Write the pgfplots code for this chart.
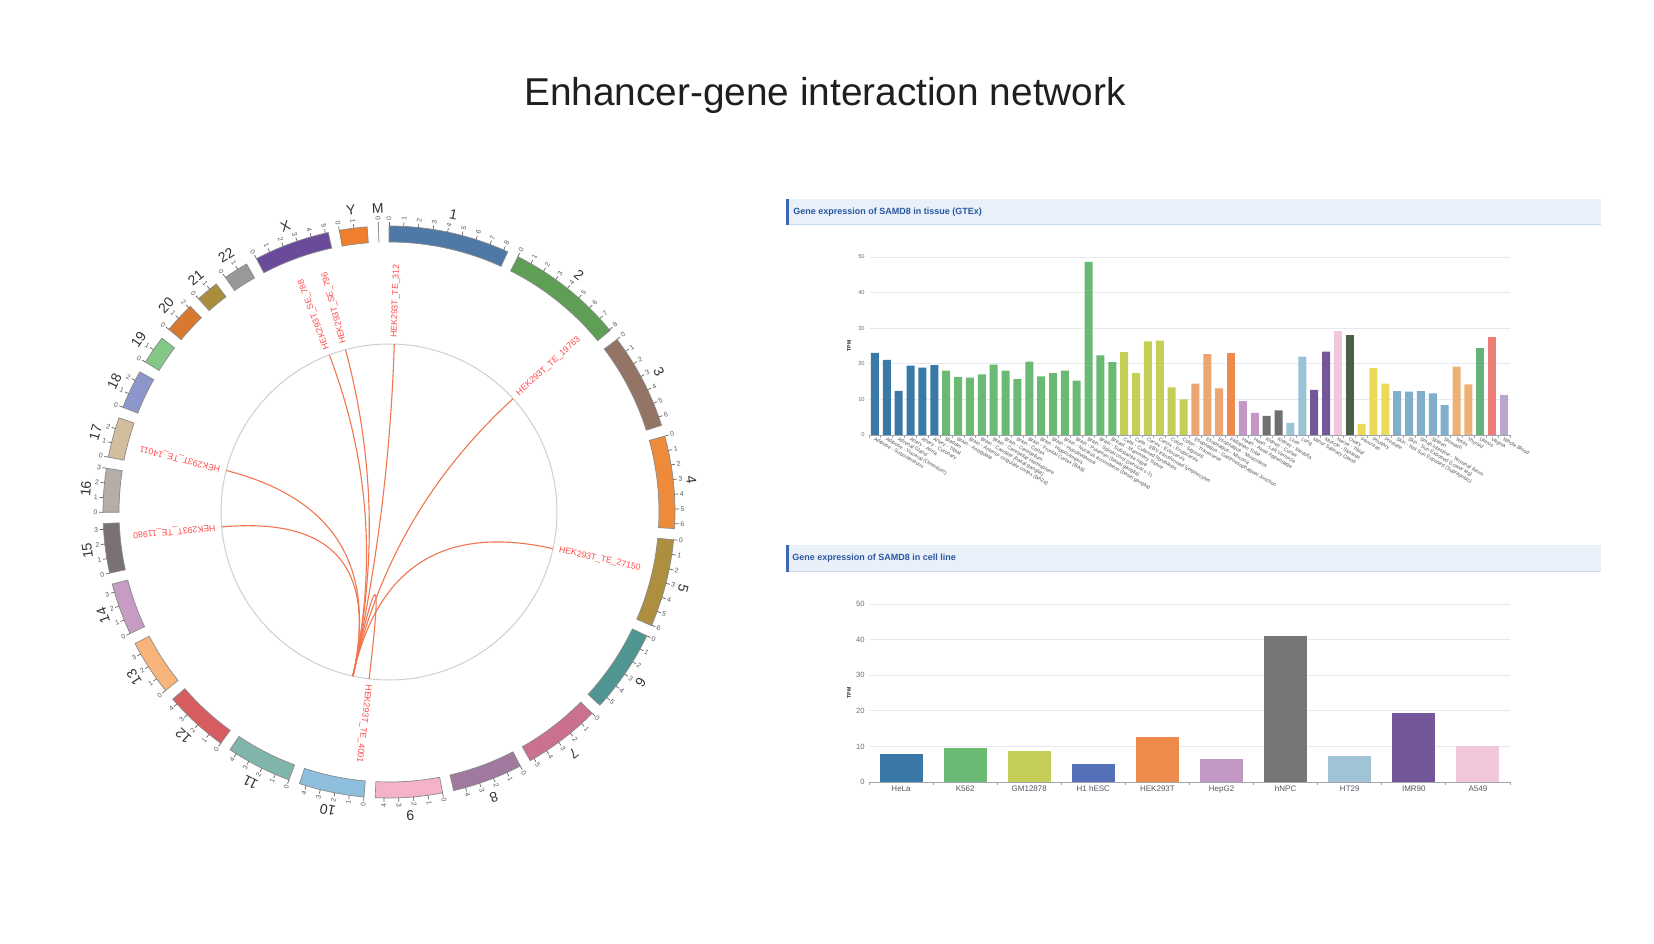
\documentclass[border=0pt]{standalone}
\usepackage{fontspec}
\setmainfont{Liberation Sans}
\usepackage{pgfplots}
\pgfplotsset{compat=1.18}
\newcommand\fs[1]{\fontsize{#1}{#1}\selectfont}
% chromosome colours
\definecolor{c1}{HTML}{4E79A7}\definecolor{c2}{HTML}{5E9F55}\definecolor{c3}{HTML}{937465}
\definecolor{c4}{HTML}{ED8B3A}\definecolor{c5}{HTML}{AE8F40}\definecolor{c6}{HTML}{4F9692}
\definecolor{c7}{HTML}{CC7090}\definecolor{c8}{HTML}{A07A9E}\definecolor{c9}{HTML}{F4B3C7}
\definecolor{c10}{HTML}{8EBFDC}\definecolor{c11}{HTML}{80B5AB}\definecolor{c12}{HTML}{D65C5F}
\definecolor{c13}{HTML}{F9B47C}\definecolor{c14}{HTML}{C69BC4}\definecolor{c15}{HTML}{797172}
\definecolor{c16}{HTML}{B6ACA9}\definecolor{c17}{HTML}{D2BE9C}\definecolor{c18}{HTML}{8D96CB}
\definecolor{c19}{HTML}{83C886}\definecolor{c20}{HTML}{D9782F}\definecolor{c21}{HTML}{A98D3D}
\definecolor{c22}{HTML}{999999}\definecolor{cX}{HTML}{6A4B9B}\definecolor{cY}{HTML}{EF7F2D}
\definecolor{cM}{HTML}{555555}
\definecolor{blockedge}{HTML}{8A8A8A}\definecolor{tickc}{HTML}{666666}
\definecolor{circc}{HTML}{CFCFCF}\definecolor{linkc}{HTML}{F07650}\definecolor{labred}{HTML}{FF4A4A}
% header colours
\definecolor{headbg}{HTML}{E9F0FA}\definecolor{headline}{HTML}{C8D9F0}
\definecolor{headbar}{HTML}{3C67B4}\definecolor{headtext}{HTML}{2C58A0}
% bar chart colours
\definecolor{axisc}{HTML}{A0A4AC}\definecolor{gridc}{HTML}{E6E9F0}
\definecolor{labc}{HTML}{6E7079}\definecolor{labc2}{HTML}{555860}
\definecolor{g1}{HTML}{3A78A8}\definecolor{g2}{HTML}{6BBA74}\definecolor{g3}{HTML}{C5CE57}
\definecolor{g4}{HTML}{EDA673}\definecolor{g5}{HTML}{EE8A4C}\definecolor{g6}{HTML}{C497C6}
\definecolor{g7}{HTML}{6F6F6F}\definecolor{g8}{HTML}{9BC3D6}\definecolor{g9}{HTML}{735799}
\definecolor{g10}{HTML}{F0C7DB}\definecolor{g11}{HTML}{4A5E49}\definecolor{g12}{HTML}{EBD95A}
\definecolor{g13}{HTML}{7FAFCB}\definecolor{g14}{HTML}{EDB173}\definecolor{g15}{HTML}{66B27A}
\definecolor{g16}{HTML}{EC7C76}\definecolor{g17}{HTML}{B8A7CB}
\definecolor{k4}{HTML}{5470B8}\definecolor{k6}{HTML}{C297C4}\definecolor{k7}{HTML}{767676}
\definecolor{k8}{HTML}{A0C4D6}

\pgfplotsset{
  barax/.style={
    scale only axis, anchor=south west,
    /pgf/number format/assume math mode=true,
    axis x line*=bottom, axis y line*=left,
    x axis line style={draw=axisc, line width=0.45pt, -},
    y axis line style={draw=none},
    ymin=0, ymax=50, ytick={0,10,20,30,40,50},
    ymajorgrids, grid style={gridc, line width=0.45pt},
    tick style={draw=axisc, line width=0.45pt},
    xtick align=outside, ytick align=inside,
    minor tick length=1.6pt, major tick length=0pt,
    yticklabel style={text=labc, inner sep=0pt, xshift=-2pt},
    ylabel=TPM,
    ylabel style={at={(axis description cs:-0.031,0.5)}, anchor=center, font=\bfseries\fs{2.6}, text=black!85},
    clip=false,
  }
}

\begin{document}
\begin{tikzpicture}
\path[use as bounding box] (0,0) rectangle (827pt,471.5pt);
\fill[white] (0,0) rectangle (827pt,471.5pt);

% ---------- page frame axis: title, headers, circos ----------
\begin{axis}[at={(0pt,0pt)}, anchor=south west, x=0.5pt, y=0.5pt,
  xmin=-389, xmax=1265, ymin=-431, ymax=512, hide axis, clip=false]
\addplot[draw=none] coordinates {(0,0)};
\pgfplotsextra{%
  \node[font=\fs{19.4}, text=black!88] at (axis cs:436,417) {Enhancer-gene interaction network};
  % header 1
  \fill[headbg] (axis cs:397,287) rectangle (axis cs:1212,313);
  \draw[headline, line width=0.5pt] (axis cs:397,287.5) -- (axis cs:1212,287.5);
  \fill[headbar] (axis cs:397,287) rectangle (axis cs:399.5,313);
  \node[anchor=west, font=\bfseries\fs{4.5}, text=headtext, inner sep=0pt] at (axis cs:404,300) {Gene expression of SAMD8 in tissue (GTEx)};
  % header 2
  \fill[headbg] (axis cs:397,-60) rectangle (axis cs:1212,-33);
  \draw[headline, line width=0.5pt] (axis cs:397,-59.5) -- (axis cs:1212,-59.5);
  \fill[headbar] (axis cs:397,-60) rectangle (axis cs:399.5,-33);
  \node[anchor=west, font=\bfseries\fs{4.5}, text=headtext, inner sep=0pt] at (axis cs:403,-46.5) {Gene expression of SAMD8 in cell line};
  % ----- circos ideogram -----
  \xdef\cst{0}%
  \foreach \nm/\len/\col in {1/249/c1,2/242/c2,3/198/c3,4/190/c4,5/181/c5,6/171/c6,7/159/c7,8/145/c8,9/138/c9,10/134/c10,11/135/c11,12/133/c12,13/114/c13,14/107/c14,15/102/c15,16/90/c16,17/83/c17,18/80/c18,19/59/c19,20/64/c20,21/47/c21,22/51/c22,X/156/cX,Y/57/cY,M/0.0166/cM}{%
    \pgfmathsetmacro\ts{\cst}%
    \pgfmathsetmacro\te{\ts+\len*0.0985}%
    \pgfmathsetmacro\tm{(\ts+\te)/2}%
    \filldraw[fill=\col, draw=blockedge, line width=0.35pt]
      (axis cs:{286*sin(\ts)},{286*cos(\ts)}) arc[start angle={90-\ts}, end angle={90-\te}, radius=143pt]
      -- (axis cs:{270*sin(\te)},{270*cos(\te)}) arc[start angle={90-\te}, end angle={90-\ts}, radius=135pt] -- cycle;
    \node[rotate={-\tm}, font=\fs{7}, text=black!80, inner sep=0pt] at (axis cs:{304*sin(\tm)},{304*cos(\tm)}) {\nm};
    \pgfmathtruncatemacro\nt{\len/30}%
    \foreach \k in {0,...,\nt}{%
      \pgfmathsetmacro\ta{\ts+\k*2.955}%
      \draw[tickc, line width=0.35pt] (axis cs:{286*sin(\ta)},{286*cos(\ta)}) -- (axis cs:{290*sin(\ta)},{290*cos(\ta)});
      \pgfmathtruncatemacro\rh{\ta<180 ? 1 : 0}%
      \ifnum\rh=1
        \node[rotate={90-\ta}, anchor=west, inner sep=0.6pt, font=\fs{3.4}, text=black!65] at (axis cs:{290*sin(\ta)},{290*cos(\ta)}) {\k};
      \else
        \node[rotate={270-\ta}, anchor=east, inner sep=0.6pt, font=\fs{3.4}, text=black!65] at (axis cs:{290*sin(\ta)},{290*cos(\ta)}) {\k};
      \fi
    }%
    \pgfmathsetmacro\nxt{\te+2.25}%
    \xdef\cst{\nxt}%
  }%
  % ----- links -----
  \draw[circc, line width=0.5pt] (axis cs:0,0) circle[radius=84pt];
  \def\gene{192.4}%
  \foreach \ang/\lab in {339.2/HEK293T\_SE\_788, 345.0/HEK293T\_SE\_796, 1.8/HEK293T\_TE\_312, 47.6/HEK293T\_TE\_19763, 102.6/HEK293T\_TE\_27150, 264.9/HEK293T\_TE\_11980, 284.3/HEK293T\_TE\_14011, 186.8/HEK293T\_TE\_4001}{%
    \draw[linkc, line width=0.55pt] (axis cs:{168*sin(\ang)},{168*cos(\ang)}) .. controls (axis cs:{56*sin(\ang)},{56*cos(\ang)}) and (axis cs:{56*sin(\gene)},{56*cos(\gene)}) .. (axis cs:{168*sin(\gene)},{168*cos(\gene)});
    \node[rotate={90-\ang}, anchor=west, inner sep=0pt, font=\fs{4.37}, text=labred] at (axis cs:{174*sin(\ang)},{174*cos(\ang)}) {\lab};
  }%
}
\end{axis}

% ---------- GTEx tissue bar chart ----------
\begin{axis}[barax, at={(434.5pt,254pt)}, width=320.5pt, height=89pt,
  xmin=-0.5, xmax=53.5, xtick={0,...,53}, minor xtick={-0.5,0.5,...,53.5},
  xticklabels={{Adipose - Subcutaneous},{Adipose - Visceral (Omentum)},{Adrenal Gland},{Artery - Aorta},{Artery - Coronary},{Artery - Tibial},{Bladder},{Brain - Amygdala},{Brain - Anterior cingulate cortex (BA24)},{Brain - Caudate (basal ganglia)},{Brain - Cerebellar Hemisphere},{Brain - Cerebellum},{Brain - Cortex},{Brain - Frontal Cortex (BA9)},{Brain - Hippocampus},{Brain - Hypothalamus},{Brain - Nucleus accumbens (basal ganglia)},{Brain - Putamen (basal ganglia)},{Brain - Spinal cord (cervical c-1)},{Brain - Substantia nigra},{Breast - Mammary Tissue},{Cells - Cultured fibroblasts},{Cells - EBV-transformed lymphocytes},{Cervix - Ectocervix},{Cervix - Endocervix},{Colon - Sigmoid},{Colon - Transverse},{Esophagus - Gastroesophageal Junction},{Esophagus - Mucosa},{Esophagus - Muscularis},{Fallopian Tube},{Heart - Atrial Appendage},{Heart - Left Ventricle},{Kidney - Cortex},{Kidney - Medulla},{Liver},{Lung},{Minor Salivary Gland},{Muscle - Skeletal},{Nerve - Tibial},{Ovary},{Pancreas},{Pituitary},{Prostate},{Skin - Not Sun Exposed (Suprapubic)},{Skin - Sun Exposed (Lower leg)},{Small Intestine - Terminal Ileum},{Spleen},{Stomach},{Testis},{Thyroid},{Uterus},{Vagina},{Whole Blood}},
  xticklabel style={rotate=-30, anchor=north west, font=\fs{2.6}, text=labc2, inner sep=0.5pt},
  yticklabel style={font=\fs{2.85}},
]
\addplot[ybar, bar width=4pt, bar shift=0pt, fill=g1, draw=none] coordinates {(0,23.1)(1,21.1)(2,12.4)(3,19.5)(4,18.9)(5,19.6)};
\addplot[ybar, bar width=4pt, bar shift=0pt, fill=g2, draw=none] coordinates {(6,18.1)(7,16.3)(8,16.1)(9,17.0)(10,19.8)(11,18.1)(12,15.7)(13,20.6)(14,16.5)(15,17.4)(16,18.1)(17,15.3)(18,48.6)(19,22.4)(20,20.5)};
\addplot[ybar, bar width=4pt, bar shift=0pt, fill=g3, draw=none] coordinates {(21,23.3)(22,17.4)(23,26.3)(24,26.5)(25,13.4)(26,10.0)};
\addplot[ybar, bar width=4pt, bar shift=0pt, fill=g4, draw=none] coordinates {(27,14.4)(28,22.7)(29,13.1)};
\addplot[ybar, bar width=4pt, bar shift=0pt, fill=g5, draw=none] coordinates {(30,22.9)};
\addplot[ybar, bar width=4pt, bar shift=0pt, fill=g6, draw=none] coordinates {(31,9.5)(32,6.2)};
\addplot[ybar, bar width=4pt, bar shift=0pt, fill=g7, draw=none] coordinates {(33,5.4)(34,6.9)};
\addplot[ybar, bar width=4pt, bar shift=0pt, fill=g8, draw=none] coordinates {(35,3.4)(36,22.0)};
\addplot[ybar, bar width=4pt, bar shift=0pt, fill=g9, draw=none] coordinates {(37,12.7)(38,23.4)};
\addplot[ybar, bar width=4pt, bar shift=0pt, fill=g10, draw=none] coordinates {(39,29.1)};
\addplot[ybar, bar width=4pt, bar shift=0pt, fill=g11, draw=none] coordinates {(40,28.0)};
\addplot[ybar, bar width=4pt, bar shift=0pt, fill=g12, draw=none] coordinates {(41,3.1)(42,18.8)(43,14.4)};
\addplot[ybar, bar width=4pt, bar shift=0pt, fill=g13, draw=none] coordinates {(44,12.3)(45,12.2)(46,12.3)(47,11.7)(48,8.4)};
\addplot[ybar, bar width=4pt, bar shift=0pt, fill=g14, draw=none] coordinates {(49,19.2)(50,14.2)};
\addplot[ybar, bar width=4pt, bar shift=0pt, fill=g15, draw=none] coordinates {(51,24.4)};
\addplot[ybar, bar width=4pt, bar shift=0pt, fill=g16, draw=none] coordinates {(52,27.4)};
\addplot[ybar, bar width=4pt, bar shift=0pt, fill=g17, draw=none] coordinates {(53,11.2)};
\end{axis}

% ---------- cell line bar chart ----------
\begin{axis}[barax, at={(434.5pt,80.5pt)}, width=320.5pt, height=89pt,
  xmin=-0.5, xmax=9.5, xtick={0,...,9}, minor xtick={-0.5,0.5,...,9.5},
  xticklabels={HeLa,K562,GM12878,H1 hESC,HEK293T,HepG2,hNPC,HT29,IMR90,A549},
  xticklabel style={font=\fs{4}, text=labc2, inner sep=1pt, yshift=-0.6pt},
  yticklabel style={font=\fs{3.8}},
]
\addplot[ybar, bar width=21.5pt, bar shift=0pt, fill=g1, draw=none] coordinates {(0,7.9)};
\addplot[ybar, bar width=21.5pt, bar shift=0pt, fill=g2, draw=none] coordinates {(1,9.6)};
\addplot[ybar, bar width=21.5pt, bar shift=0pt, fill=g3, draw=none] coordinates {(2,8.7)};
\addplot[ybar, bar width=21.5pt, bar shift=0pt, fill=k4, draw=none] coordinates {(3,5.1)};
\addplot[ybar, bar width=21.5pt, bar shift=0pt, fill=g5, draw=none] coordinates {(4,12.6)};
\addplot[ybar, bar width=21.5pt, bar shift=0pt, fill=k6, draw=none] coordinates {(5,6.4)};
\addplot[ybar, bar width=21.5pt, bar shift=0pt, fill=k7, draw=none] coordinates {(6,41.1)};
\addplot[ybar, bar width=21.5pt, bar shift=0pt, fill=k8, draw=none] coordinates {(7,7.4)};
\addplot[ybar, bar width=21.5pt, bar shift=0pt, fill=g9, draw=none] coordinates {(8,19.5)};
\addplot[ybar, bar width=21.5pt, bar shift=0pt, fill=g10, draw=none] coordinates {(9,10.0)};
\end{axis}
\end{tikzpicture}
\end{document}
